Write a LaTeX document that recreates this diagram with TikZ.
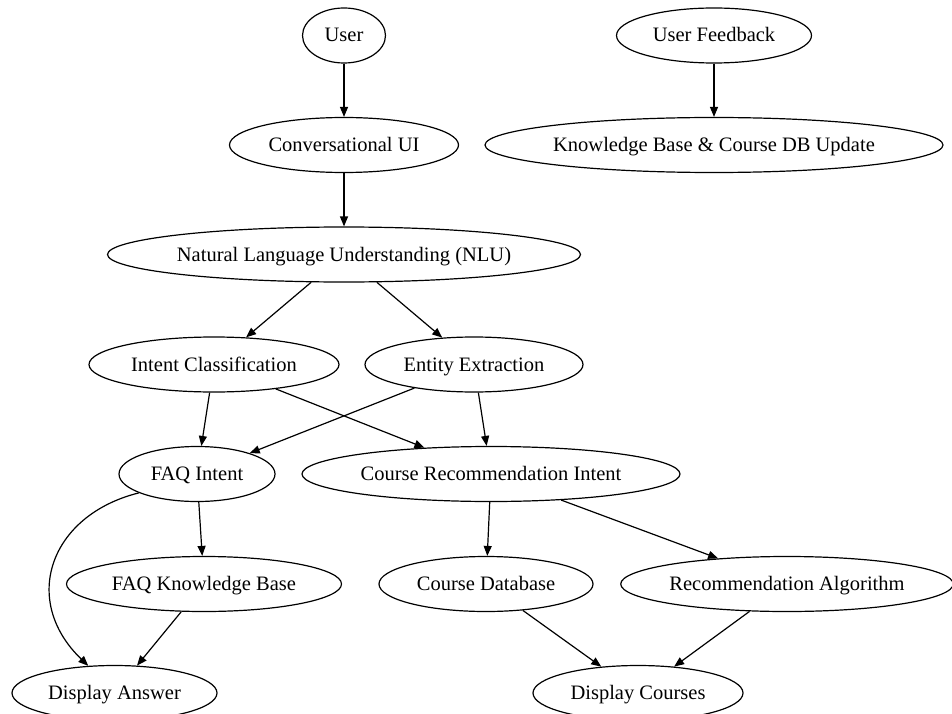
\documentclass[tikz,border=0pt]{standalone}
\usepackage{fontspec}
\setmainfont{Liberation Serif}
\usetikzlibrary{shapes.geometric,arrows.meta}
\begin{document}
\begin{tikzpicture}[x=1pt,y=-1pt,
  nd/.style={ellipse, draw, line width=1.2pt, inner sep=0pt, minimum height=55pt, text height=13pt, text depth=0pt, font=\fontsize{20.5}{24}\selectfont},
  arr/.style={line width=1.2pt, -{Triangle[length=10pt,width=8pt]}}]
\useasboundingbox (0,0) rectangle (952,714);
\node[nd, minimum width=83pt]  (user) at (344,35.5) {User};
\node[nd, minimum width=195pt] (fb)   at (714,35.5) {User Feedback};
\node[nd, minimum width=229pt] (cui)  at (344,145) {Conversational UI};
\node[nd, minimum width=458pt] (kbu)  at (714,145) {Knowledge Base \& Course DB Update};
\node[nd, minimum width=473pt] (nlu)  at (344,254.5) {Natural Language Understanding (NLU)};
\node[nd, minimum width=250pt] (ic)   at (214,364.5) {Intent Classification};
\node[nd, minimum width=218pt] (ee)   at (474,364.5) {Entity Extraction};
\node[nd, minimum width=156pt] (faq)  at (197,474) {FAQ Intent};
\node[nd, minimum width=378pt] (cri)  at (491,474) {Course Recommendation Intent};
\node[nd, minimum width=275pt] (fkb)  at (204,584) {FAQ Knowledge Base};
\node[nd, minimum width=214pt] (cdb)  at (486,584) {Course Database};
\node[nd, minimum width=330pt] (ra)   at (787,584) {Recommendation Algorithm};
\node[nd, minimum width=205pt] (da)   at (114.5,693) {Display Answer};
\node[nd, minimum width=210pt] (dc)   at (638,693) {Display Courses};

\draw[arr] (user) -- (cui);
\draw[arr] (fb) -- (kbu);
\draw[arr] (cui) -- (nlu);
\draw[arr] (nlu) -- (ic);
\draw[arr] (nlu) -- (ee);
\draw[arr] (ic) -- (faq);
\draw[arr] (ic) -- (cri);
\draw[arr] (ee) -- (faq);
\draw[arr] (ee) -- (cri);
\draw[arr] (faq) -- (fkb);
\draw[arr] (faq.198) .. controls (50,515) and (20,600) .. (da.134);
\draw[arr] (fkb) -- (da);
\draw[arr] (cri) -- (cdb);
\draw[arr] (cri) -- (ra);
\draw[arr] (cdb) -- (dc);
\draw[arr] (ra) -- (dc);
\end{tikzpicture}
\end{document}
